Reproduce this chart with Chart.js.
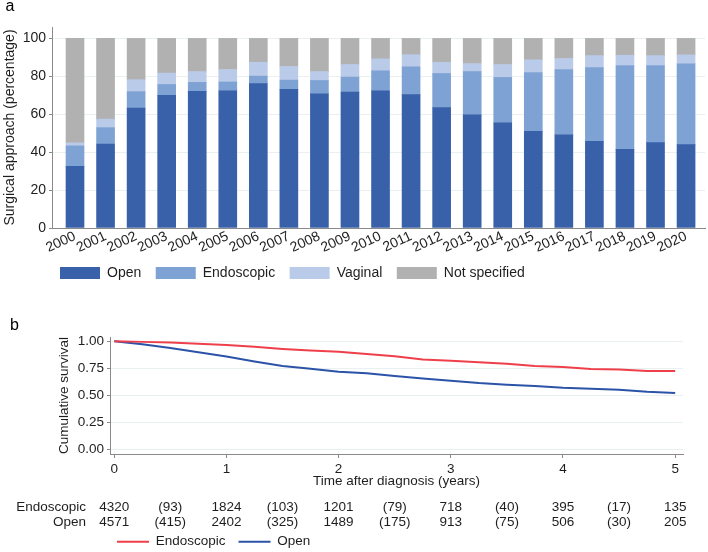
<!DOCTYPE html>
<html>
<head>
<meta charset="utf-8">
<script src="https://cdn.jsdelivr.net/npm/chart.js@4.4.1/dist/chart.umd.min.js"></script>
<style>
  body { margin: 0; background: #fff; }
  #wrap { position: relative; width: 708px; height: 552px; overflow: hidden; }
  canvas { position: absolute; left: 0; }
  #approachChart { top: 0; }
  #survivalChart { top: 290px; }
</style>
</head>
<body>
<div id="wrap">
  <canvas id="approachChart" width="708" height="290"></canvas>
  <canvas id="survivalChart" width="708" height="262"></canvas>
</div>
<script>
// panel a: share of each surgical approach per year (%)
var years = ['2000', '2001', '2002', '2003', '2004', '2005', '2006', '2007', '2008', '2009', '2010',
  '2011', '2012', '2013', '2014', '2015', '2016', '2017', '2018', '2019', '2020'];
var openPct = [32.5, 44.3, 63.2, 70.0, 72.1, 72.4, 76.1, 73.1, 70.7, 71.7, 72.4,
  70.3, 63.5, 59.7, 55.5, 51.0, 49.2, 45.7, 41.5, 45.0, 44.0];
var endoPct = [10.8, 8.6, 8.7, 5.7, 4.7, 4.6, 4.0, 4.9, 7.1, 7.9, 10.5,
  14.7, 18.0, 22.8, 23.9, 31.0, 34.4, 38.9, 44.2, 40.7, 42.6];
var vaginalPct = [1.6, 4.5, 6.3, 6.0, 5.7, 6.6, 7.3, 7.2, 4.7, 6.6, 6.3,
  6.4, 5.9, 4.2, 6.8, 6.7, 5.8, 6.3, 5.4, 5.2, 4.7];
var notSpecPct = [55.1, 42.6, 21.8, 18.3, 17.5, 16.4, 12.6, 14.8, 17.5, 13.8, 10.8,
  8.6, 12.6, 13.3, 13.8, 11.3, 10.6, 9.1, 8.9, 9.1, 8.7];
var pctTicks = [0, 20, 40, 60, 80, 100];

// panel b: cumulative survival by approach
var survTime = [0, 0.25, 0.5, 0.75, 1, 1.25, 1.5, 1.75, 2, 2.25, 2.5,
  2.75, 3, 3.25, 3.5, 3.75, 4, 4.25, 4.5, 4.75, 5];
var endoSurv = [1.0, 0.995, 0.99, 0.978, 0.966, 0.95, 0.93, 0.915, 0.903, 0.882, 0.863,
  0.832, 0.82, 0.806, 0.792, 0.772, 0.764, 0.745, 0.739, 0.727, 0.727];
var openSurv = [1.0, 0.972, 0.938, 0.9, 0.86, 0.814, 0.773, 0.748, 0.72, 0.705, 0.68,
  0.658, 0.637, 0.615, 0.6, 0.587, 0.571, 0.562, 0.553, 0.534, 0.522];
var survTicks = [0, 0.25, 0.5, 0.75, 1];
var yearTicks = [0, 1, 2, 3, 4, 5];

// numbers at risk (censored in brackets)
var riskTime = [0, 0.5, 1, 1.5, 2, 2.5, 3, 3.5, 4, 4.5, 5];
var endoRisk = ['4320', '(93)', '1824', '(103)', '1201', '(79)', '718', '(40)', '395', '(17)', '135'];
var openRisk = ['4571', '(415)', '2402', '(325)', '1489', '(175)', '913', '(75)', '506', '(30)', '205'];

var fontFamily = '"Liberation Sans", Arial, sans-serif';
var textColor = '#1e1e1e';
var axisColor = '#8a8a8a';
var gridColor = '#e9f0f2';
var fontA = { family: fontFamily, size: 14 };
var fontB = { family: fontFamily, size: 13.5 };

Chart.defaults.font.family = fontFamily;
Chart.defaults.color = textColor;

function toPoints(xs, ys) {
  return ys.map(function (v, i) { return { x: xs[i], y: v }; });
}

function setTicks(values) {
  return function (scale) {
    scale.ticks = values.map(function (v) { return { value: v }; });
  };
}

// moves the legend box; the built-in one only aligns to the canvas edges
function legendAt(left, top) {
  return {
    id: 'legendAt',
    beforeDraw(chart) {
      var lg = chart.legend;
      lg.left = left;
      if (top != null) {
        lg.top = top;
        lg.bottom = top + lg.height;
      }
    }
  };
}

function panelLabel(text, x, y) {
  return {
    id: 'panelLabel',
    afterDraw(chart) {
      var ctx = chart.ctx;
      ctx.save();
      ctx.font = '16px ' + fontFamily;
      ctx.fillStyle = '#000';
      ctx.textAlign = 'left';
      ctx.textBaseline = 'alphabetic';
      ctx.fillText(text, x, y);
      ctx.restore();
    }
  };
}

var riskTable = {
  id: 'riskTable',
  afterDraw(chart) {
    var ctx = chart.ctx;
    var xs = chart.scales.x;
    ctx.save();
    ctx.font = '13.5px ' + fontFamily;
    ctx.fillStyle = textColor;
    ctx.textBaseline = 'middle';
    ctx.textAlign = 'right';
    ctx.fillText('Endoscopic', 86, 217);
    ctx.fillText('Open', 86, 232);
    ctx.textAlign = 'center';
    riskTime.forEach(function (t, i) {
      ctx.fillText(endoRisk[i], xs.getPixelForValue(t), 217);
      ctx.fillText(openRisk[i], xs.getPixelForValue(t), 232);
    });
    ctx.restore();
  }
};

var barIdx = years.map(function (y, i) { return i; });

var approachChart = new Chart(document.getElementById('approachChart'), {
  type: 'bar',
  data: {
    datasets: [
      { label: 'Open', data: toPoints(barIdx, openPct), backgroundColor: '#3861a9' },
      { label: 'Endoscopic', data: toPoints(barIdx, endoPct), backgroundColor: '#7ea2d3' },
      { label: 'Vaginal', data: toPoints(barIdx, vaginalPct), backgroundColor: '#bacbea' },
      { label: 'Not specified', data: toPoints(barIdx, notSpecPct), backgroundColor: '#b1b1b1' }
    ]
  },
  options: {
    responsive: false,
    animation: false,
    layout: { padding: { left: 0, right: 3, top: 27, bottom: 0 } },
    datasets: { bar: { barThickness: 18, borderWidth: 0 } },
    scales: {
      x: {
        type: 'linear',
        stacked: true,
        offset: false,
        min: -0.753,
        max: 20.62,
        afterBuildTicks: setTicks(barIdx),
        afterFit: function (s) { s.height = 23.5; },
        grid: { offset: false, drawOnChartArea: false, drawTicks: false },
        border: { color: axisColor, z: 1 },
        ticks: {
          autoSkip: false, minRotation: 25, maxRotation: 25, padding: 0,
          font: fontA, color: textColor,
          callback: function (v) { return years[v]; }
        }
      },
      y: {
        stacked: true,
        min: 0,
        max: 106,
        afterBuildTicks: setTicks(pctTicks),
        afterFit: function (s) { s.width = 52; },
        grid: { color: gridColor, tickColor: axisColor, tickLength: 3 },
        border: { color: axisColor, z: 1 },
        ticks: { padding: 3, font: fontA, color: textColor },
        title: {
          display: true, text: 'Surgical approach (percentage)',
          font: fontA, color: textColor, padding: { top: 1.5, bottom: 0 }
        }
      }
    },
    plugins: {
      legend: {
        position: 'bottom',
        align: 'start',
        labels: { boxWidth: 40, boxHeight: 12, padding: 14.5, font: fontA, color: textColor }
      },
      tooltip: { enabled: false }
    }
  },
  plugins: [legendAt(45.5, null), panelLabel('a', 5.5, 11)]
});

var survivalChart = new Chart(document.getElementById('survivalChart'), {
  type: 'line',
  data: {
    datasets: [
      {
        label: 'Endoscopic', data: toPoints(survTime, endoSurv),
        borderColor: '#ef3f4a', backgroundColor: '#ef3f4a', borderWidth: 2, pointRadius: 0, tension: 0
      },
      {
        label: 'Open', data: toPoints(survTime, openSurv),
        borderColor: '#2b53a7', backgroundColor: '#2b53a7', borderWidth: 2, pointRadius: 0, tension: 0
      }
    ]
  },
  options: {
    responsive: false,
    animation: false,
    layout: { padding: { left: 0, right: 25, top: 47, bottom: 26.4 } },
    scales: {
      x: {
        type: 'linear',
        min: -0.038,
        max: 5.07,
        afterBuildTicks: setTicks(yearTicks),
        afterFit: function (s) { s.height = 35.1; },
        grid: { drawOnChartArea: false, tickColor: axisColor, tickLength: 4 },
        border: { color: axisColor },
        ticks: { padding: 3, font: fontB, color: textColor },
        title: {
          display: true, text: 'Time after diagnosis (years)',
          font: fontB, color: textColor, padding: { top: 0, bottom: 0 }
        }
      },
      y: {
        min: -0.04,
        max: 1.04,
        afterBuildTicks: setTicks(survTicks),
        afterFit: function (s) { s.width = 110; },
        grid: { color: gridColor, tickColor: axisColor, tickLength: 3 },
        border: { color: axisColor },
        ticks: {
          padding: 3, font: fontB, color: textColor,
          callback: function (v) { return v.toFixed(2); }
        },
        title: {
          display: true, text: 'Cumulative survival',
          font: fontB, color: textColor, padding: { top: 56.5, bottom: 0 }
        }
      }
    },
    plugins: {
      legend: {
        position: 'bottom',
        align: 'start',
        labels: {
          usePointStyle: true, pointStyle: 'line', pointStyleWidth: 32,
          padding: 13, font: fontB, color: textColor
        }
      },
      tooltip: { enabled: false }
    }
  },
  plugins: [riskTable, legendAt(104, 232), panelLabel('b', 10, 40)]
});
</script>
</body>
</html>
